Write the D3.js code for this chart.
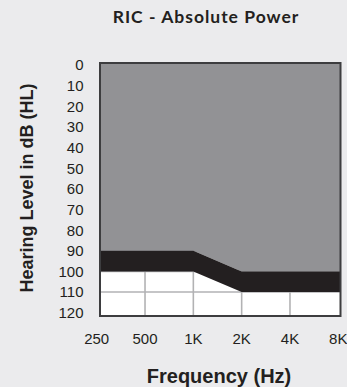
<!DOCTYPE html>
<html>
<head>
<meta charset="utf-8">
<script src="https://cdn.jsdelivr.net/npm/d3@7"></script>
<style>
  html, body { margin: 0; padding: 0; background: #ebebed; }
  svg { display: block; }
</style>
</head>
<body>
<div id="chart"></div>
<script>
// audiogram fitting range
var freqs = [250, 500, 1000, 2000, 4000, 8000];
var freqLabels = ["250", "500", "1K", "2K", "4K", "8K"];
var upperDb = [90, 90, 90, 100, 100, 100];   // top of the black band
var lowerDb = [100, 100, 100, 110, 110, 110]; // bottom of the black band
var dbTicks = [0, 10, 20, 30, 40, 50, 60, 70, 80, 90, 100, 110, 120];

var width = 347, height = 387;

var svg = d3.select("#chart")
  .append("svg")
    .attr("width", width)
    .attr("height", height);

svg.append("rect")
  .attr("width", width)
  .attr("height", height)
  .attr("fill", "#ebebed");

var x = d3.scaleLog()
  .base(2)
  .domain([250, 8000])
  .range([96.7, 338.3]);

var y = d3.scaleLinear()
  .domain([0, 120])
  .range([65, 312.7]);

// plot frame is a bit wider than the tick positions
var frame = {left: 100, right: 340.5, top: 63, bottom: 316};

var data = freqs.map(function(f, i) {
  return {f: f, up: upperDb[i], low: lowerDb[i]};
});

// x of a point, first/last stretched to the frame edge
function px(d, i) {
  if (i === 0) return frame.left;
  if (i === data.length - 1) return frame.right;
  return x(d.f);
}

var plot = svg.append("g");

plot.append("rect")
  .attr("x", frame.left)
  .attr("y", frame.top)
  .attr("width", frame.right - frame.left)
  .attr("height", frame.bottom - frame.top)
  .attr("fill", "#ffffff");

// grid (only shows in the white part)
plot.selectAll(".vgrid")
  .data(freqs.slice(1, -1))
  .enter()
  .append("line")
    .attr("x1", function(d) { return x(d); })
    .attr("x2", function(d) { return x(d); })
    .attr("y1", frame.top)
    .attr("y2", frame.bottom)
    .attr("stroke", "#b2b2b4")
    .attr("stroke-width", 1.6);

plot.selectAll(".hgrid")
  .data(dbTicks.slice(1, -1))
  .enter()
  .append("line")
    .attr("x1", frame.left)
    .attr("x2", frame.right)
    .attr("y1", function(d) { return y(d); })
    .attr("y2", function(d) { return y(d); })
    .attr("stroke", "#b2b2b4")
    .attr("stroke-width", 1.6);

// gray region above the band
plot.append("path")
  .datum(data)
  .attr("fill", "#929295")
  .attr("d", d3.area()
    .x(px)
    .y0(frame.top)
    .y1(function(d) { return y(d.up); })
  );

// black band
plot.append("path")
  .datum(data)
  .attr("fill", "#231f20")
  .attr("d", d3.area()
    .x(px)
    .y0(function(d) { return y(d.low); })
    .y1(function(d) { return y(d.up); })
  );

plot.append("rect")
  .attr("x", frame.left)
  .attr("y", frame.top)
  .attr("width", frame.right - frame.left)
  .attr("height", frame.bottom - frame.top)
  .attr("fill", "none")
  .attr("stroke", "#3d3d3f")
  .attr("stroke-width", 2);

// Y tick labels
svg.selectAll(".ylab")
  .data(dbTicks)
  .enter()
  .append("text")
    .attr("x", 83.5)
    .attr("y", function(d) { return y(d); })
    .attr("dy", "0.36em")
    .attr("text-anchor", "end")
    .style("font-family", "'Liberation Sans', Arial, sans-serif")
    .style("font-size", "15px")
    .attr("fill", "#231f20")
    .text(function(d) { return d; });

// X tick labels
svg.selectAll(".xlab")
  .data(freqs)
  .enter()
  .append("text")
    .attr("x", function(d) { return x(d); })
    .attr("y", 344)
    .attr("text-anchor", "middle")
    .style("font-family", "'Liberation Sans', Arial, sans-serif")
    .style("font-size", "15px")
    .attr("fill", "#231f20")
    .text(function(d, i) { return freqLabels[i]; });

// Title
svg.append("text")
  .attr("x", 206)
  .attr("y", 23)
  .attr("text-anchor", "middle")
  .style("font-family", "Lato, sans-serif")
  .style("font-weight", "bold")
  .style("font-size", "17.5px")
  .style("letter-spacing", "1px")
  .attr("fill", "#231f20")
  .text("RIC - Absolute Power");

// axis titles
svg.append("text")
  .attr("transform", "translate(32.5,188)rotate(-90)")
  .attr("text-anchor", "middle")
  .style("font-family", "'Liberation Sans', Arial, sans-serif")
  .style("font-weight", "bold")
  .style("font-size", "18px")
  .attr("fill", "#231f20")
  .text("Hearing Level in dB (HL)");

svg.append("text")
  .attr("x", 219)
  .attr("y", 383)
  .attr("text-anchor", "middle")
  .style("font-family", "'Liberation Sans', Arial, sans-serif")
  .style("font-weight", "bold")
  .style("font-size", "20px")
  .attr("fill", "#231f20")
  .text("Frequency (Hz)");
</script>
</body>
</html>
